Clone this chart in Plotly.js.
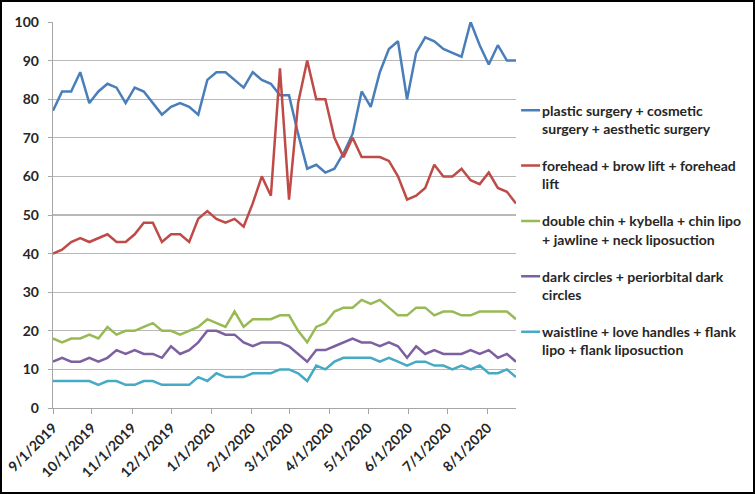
<!DOCTYPE html>
<html>
<head>
<meta charset="utf-8">
<script src="https://cdn.plot.ly/plotly-3.0.1.min.js"></script>
<style>
html,body{margin:0;padding:0;background:#fff;}
#frame{width:755px;height:494px;box-sizing:border-box;border:2px solid #000;overflow:hidden;}
#chart{width:751px;height:490px;}
</style>
</head>
<body>
<div id="frame"><div id="chart"></div></div>
<script>
var weeks = ["2019-09-01","2019-09-08","2019-09-15","2019-09-22","2019-09-29","2019-10-06","2019-10-13","2019-10-20","2019-10-27",
"2019-11-03","2019-11-10","2019-11-17","2019-11-24","2019-12-01","2019-12-08","2019-12-15","2019-12-22","2019-12-29",
"2020-01-05","2020-01-12","2020-01-19","2020-01-26","2020-02-02","2020-02-09","2020-02-16","2020-02-23",
"2020-03-01","2020-03-08","2020-03-15","2020-03-22","2020-03-29","2020-04-05","2020-04-12","2020-04-19","2020-04-26",
"2020-05-03","2020-05-10","2020-05-17","2020-05-24","2020-05-31","2020-06-07","2020-06-14","2020-06-21","2020-06-28",
"2020-07-05","2020-07-12","2020-07-19","2020-07-26","2020-08-02","2020-08-09","2020-08-16","2020-08-23"];

var plasticSurgery = [77,82,82,87,79,82,84,83,79,83,82,79,76,78,79,78,76,85,87,87,85,83,87,85,84,81,81,71,62,63,61,62,66,71,82,78,87,93,95,80,92,96,95,93,92,91,100,94,89,94,90,90];
var foreheadLift   = [40,41,43,44,43,44,45,43,43,45,48,48,43,45,45,43,49,51,49,48,49,47,53,60,55,88,54,79,90,80,80,70,65,70,65,65,65,64,60,54,55,57,63,60,60,62,59,58,61,57,56,53];
var doubleChin     = [18,17,18,18,19,18,21,19,20,20,21,22,20,20,19,20,21,23,22,21,25,21,23,23,23,24,24,20,17,21,22,25,26,26,28,27,28,26,24,24,26,26,24,25,25,24,24,25,25,25,25,23];
var darkCircles    = [12,13,12,12,13,12,13,15,14,15,14,14,13,16,14,15,17,20,20,19,19,17,16,17,17,17,16,14,12,15,15,16,17,18,17,17,16,17,16,13,16,14,15,14,14,14,15,14,15,13,14,12];
var waistline      = [7,7,7,7,7,6,7,7,6,6,7,7,6,6,6,6,8,7,9,8,8,8,9,9,9,10,10,9,7,11,10,12,13,13,13,13,12,13,12,11,12,12,11,11,10,11,10,11,9,9,10,8];

var seriesNames = [
  "plastic surgery + cosmetic<br>surgery + aesthetic surgery",
  "forehead + brow lift + forehead<br>lift",
  "double chin + kybella + chin lipo<br>+ jawline + neck liposuction",
  "dark circles + periorbital dark<br>circles",
  "waistline + love handles + flank<br>lipo + flank liposuction"
];
var seriesColors = ["#4A7EBB","#BE4B48","#98B954","#7D60A0","#46AAC5"];

var tickDates = ["2019-09-01","2019-10-01","2019-11-01","2019-12-01","2020-01-01","2020-02-01","2020-03-01","2020-04-01","2020-05-01","2020-06-01","2020-07-01","2020-08-01"];
var tickLabels = ["9/1/2019","10/1/2019","11/1/2019","12/1/2019","1/1/2020","2/1/2020","3/1/2020","4/1/2020","5/1/2020","6/1/2020","7/1/2020","8/1/2020"];

var allValues = [plasticSurgery, foreheadLift, doubleChin, darkCircles, waistline];
var traces = allValues.map(function(vals, k){
  return {
    x: weeks, y: vals, type: 'scatter', mode: 'lines',
    name: seriesNames[k], legendgroup: 'g'+k,
    line: {color: seriesColors[k], width: 2.5}
  };
});

var fontFam = "Lato, 'Liberation Sans', Arial, sans-serif";
var layout = {
  width: 751, height: 490,
  margin: {l: 51, r: 237, t: 20, b: 84, autoexpand: false},
  paper_bgcolor: '#fff', plot_bgcolor: '#fff',
  font: {family: fontFam, size: 14, color: '#262626', weight: 700},
  showlegend: true,
  legend: {
    x: 0.97, xanchor: 'left', y: 0.812, yanchor: 'top',
    font: {family: fontFam, size: 14, color: '#262626', weight: 700},
    tracegroupgap: 16, valign: 'top', itemwidth: 30,
    traceorder: 'grouped', bgcolor: 'rgba(0,0,0,0)'
  },
  xaxis: {
    type: 'date', automargin: false,
    range: ['2019-09-01', '2020-08-23'],
    tickmode: 'array', tickvals: tickDates, ticktext: tickLabels,
    tickangle: -45,
    ticks: 'outside', ticklen: 5, tickcolor: '#a6a6a6', tickwidth: 1,
    showline: true, linecolor: '#a6a6a6', linewidth: 1.3,
    showgrid: false, zeroline: false,
    tickfont: {family: fontFam, size: 14, color: '#262626', weight: 700}
  },
  yaxis: {
    range: [0, 100], dtick: 10, tick0: 0, automargin: false,
    ticks: 'outside', ticklen: 4, tickcolor: '#a6a6a6',
    ticklabelstandoff: 6,
    showline: true, linecolor: '#a6a6a6', linewidth: 1.3,
    showgrid: true, gridcolor: '#b8b8b8', gridwidth: 1.3,
    zeroline: false,
    tickfont: {family: fontFam, size: 14, color: '#262626', weight: 700}
  }
};

Plotly.newPlot('chart', traces, layout, {displayModeBar: false, staticPlot: true}).then(function(gd){
  // shorten legend line samples to match the short Excel-style swatches
  var paths = gd.querySelectorAll('.legend .legendlines path');
  paths.forEach(function(p){ p.setAttribute('d', 'M19,0h19'); });
});
</script>
</body>
</html>
